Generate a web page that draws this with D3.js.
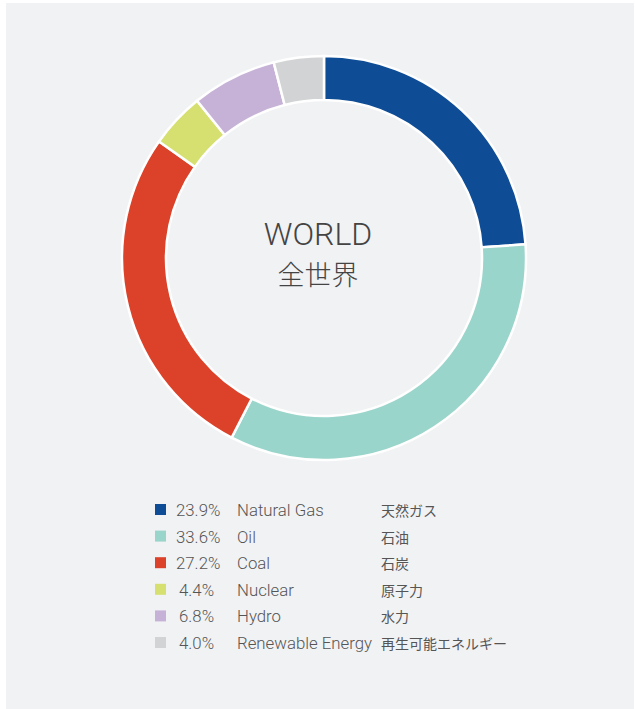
<!DOCTYPE html>
<html>
<head>
<meta charset="utf-8">
<script src="https://cdn.jsdelivr.net/npm/d3@7"></script>
<style>
html, body { margin: 0; padding: 0; background: #ffffff; }
svg { display: block; }
</style>
</head>
<body>
<script>
var categories = ['Natural Gas', 'Oil', 'Coal', 'Nuclear', 'Hydro', 'Renewable Energy'];
var categoriesJa = ['天然ガス', '石油', '石炭', '原子力', '水力', '再生可能エネルギー'];
var shares = [23.9, 33.6, 27.2, 4.4, 6.8, 4.0];
var colors = ['#0e4d96', '#9ad5cb', '#dc4129', '#d6e070', '#c7b2d7', '#d2d3d5'];

var width = 635, height = 709;
var cx = 324, cy = 258;

var svg = d3.select('body')
	.append('svg')
	.attr('width', width)
	.attr('height', height);

svg.append('rect')
	.attr('x', 6)
	.attr('y', 3)
	.attr('width', 628)
	.attr('height', 706)
	.attr('fill', '#f1f2f4');

var pie = d3.pie()
	.sort(null)
	.value(function(d){return d});

var arc = d3.arc()
	.innerRadius(158)
	.outerRadius(202);

var donut = svg.append('g')
	.attr('transform', 'translate(' + cx + ',' + cy + ')');

donut.selectAll('path')
	.data(pie(shares))
	.enter()
	.append('path')
	.attr('d', arc)
	.attr('fill', function(d, i){return colors[i]})
	.attr('stroke', '#ffffff')
	.attr('stroke-width', 2.5);

donut.append('text')
	.attr('x', -6)
	.attr('y', -13)
	.attr('text-anchor', 'middle')
	.style('font-family', 'Roboto, "Liberation Sans", sans-serif')
	.style('font-weight', 300)
	.style('font-size', '32px')
	.attr('fill', '#444')
	.text('WORLD');

donut.append('text')
	.attr('x', -6)
	.attr('y', 27)
	.attr('text-anchor', 'middle')
	.style('font-family', '"Noto Sans CJK JP", sans-serif')
	.style('font-weight', 300)
	.style('font-size', '27px')
	.attr('fill', '#444')
	.text('全世界');

// legend
var rowY = d3.scalePoint()
	.domain(categories)
	.range([510, 643]);

var legend = svg.append('g');

var rows = legend.selectAll('g')
	.data(categories)
	.enter()
	.append('g')
	.attr('transform', function(d){return 'translate(0,' + rowY(d) + ')'});

rows.append('rect')
	.attr('x', 155)
	.attr('y', -6)
	.attr('width', 11)
	.attr('height', 11)
	.attr('fill', function(d, i){return colors[i]});

var latin = 'Roboto, "Liberation Sans", sans-serif';

rows.append('text')
	.attr('x', function(d, i){return shares[i] >= 10 ? 176 : 179})
	.attr('y', 6)
	.style('font-family', latin)
	.style('font-weight', 300)
	.style('font-size', '16.8px')
	.attr('fill', '#555')
	.text(function(d, i){return shares[i].toFixed(1) + '%'});

rows.append('text')
	.attr('x', 237)
	.attr('y', 6)
	.style('font-family', latin)
	.style('font-weight', 300)
	.style('font-size', '16.8px')
	.attr('fill', '#555')
	.text(function(d){return d});

rows.append('text')
	.attr('x', 381)
	.attr('y', 6)
	.style('font-family', '"Noto Sans CJK JP", sans-serif')
	.style('font-weight', 400)
	.style('font-size', '14px')
	.attr('fill', '#555')
	.text(function(d, i){return categoriesJa[i]});
</script>
</body>
</html>
